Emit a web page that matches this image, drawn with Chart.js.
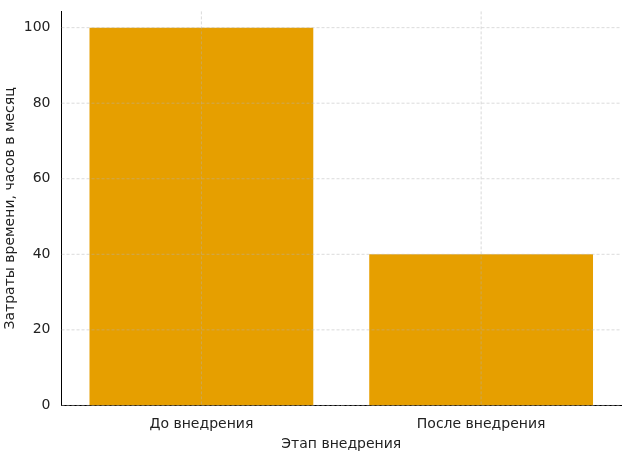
<!DOCTYPE html>
<html>
<head>
<meta charset="utf-8">
<script src="https://cdn.jsdelivr.net/npm/chart.js@4"></script>
<style>
  html, body { margin: 0; padding: 0; background: #fff; }
  #wrap { width: 624px; height: 457px; }
</style>
</head>
<body>
<div id="wrap"><canvas id="chart"></canvas></div>
<script>
const categories = ["До внедрения", "После внедрения"];
const hours = [100, 40];
const yTicks = [0, 20, 40, 60, 80, 100];

// grid on top of bars, like the reference
const gridOnTop = {
  id: "gridOnTop",
  afterDatasetsDraw(chart) {
    const { ctx, chartArea, scales } = chart;
    ctx.save();
    ctx.strokeStyle = "rgba(176,176,176,0.6)";
    ctx.lineWidth = 0.8;
    ctx.setLineDash([3, 2]);
    yTicks.forEach((v) => {
      const y = scales.y.getPixelForValue(v);
      ctx.beginPath();
      ctx.moveTo(chartArea.left, y);
      ctx.lineTo(chartArea.right, y);
      ctx.stroke();
    });
    categories.forEach((c, i) => {
      const x = scales.x.getPixelForValue(i);
      ctx.beginPath();
      ctx.moveTo(x, chartArea.top);
      ctx.lineTo(x, chartArea.bottom);
      ctx.stroke();
    });
    ctx.restore();
  },
};

new Chart(document.getElementById("chart"), {
  type: "bar",
  data: {
    labels: categories,
    datasets: [{
      data: hours,
      backgroundColor: "#e69f00",
      categoryPercentage: 1,
      barPercentage: 0.8,
    }],
  },
  options: {
    responsive: true,
    maintainAspectRatio: false,
    animation: false,
    layout: { padding: { top: 0, right: 3, bottom: 4 } },
    plugins: { legend: { display: false }, tooltip: { enabled: false } },
    scales: {
      x: {
        grid: { display: false },
        border: { color: "#000", width: 1 },
        ticks: { color: "#222", font: { family: "DejaVu Sans", size: 14 } },
        title: { display: true, text: "Этап внедрения", color: "#222", padding: 0,
                 font: { family: "DejaVu Sans", size: 14 } },
      },
      y: {
        min: 0,
        max: 104.3,
        afterBuildTicks: (s) => { s.ticks = yTicks.map((v) => ({ value: v })); },
        grid: { display: false },
        border: { color: "#000", width: 1 },
        ticks: { color: "#222", font: { family: "DejaVu Sans", size: 14 } },
        title: { display: true, text: "Затраты времени, часов в месяц", color: "#222",
                 padding: 2, font: { family: "DejaVu Sans", size: 14 } },
      },
    },
  },
  plugins: [gridOnTop],
});
</script>
</body>
</html>
